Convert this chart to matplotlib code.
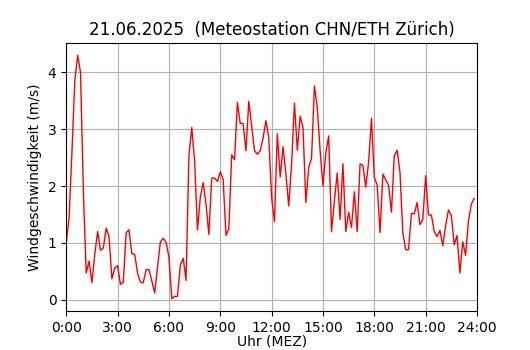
# Wind speed, 21.06.2025, Meteostation CHN/ETH Zuerich
# 10-minute values

import numpy as np
import matplotlib.pyplot as plt

# Wind speed (m/s), one value every 10 minutes starting 0:00
wind_00_06 = [1.00, 1.45, 2.60, 3.85, 4.30, 4.00, 1.90, 0.47, 0.68, 0.30,
              0.80, 1.20, 0.87, 0.91, 1.26, 1.11, 0.37, 0.56, 0.60, 0.27,
              0.31, 1.18, 1.23, 0.81, 0.80, 0.47, 0.31, 0.30, 0.53, 0.53,
              0.33, 0.12, 0.57, 1.02, 1.08, 1.01]
wind_06_12 = [0.75, 0.02, 0.06, 0.06, 0.61, 0.73, 0.34, 2.53, 3.03, 2.44,
              1.23, 1.80, 2.06, 1.68, 1.15, 2.14, 2.14, 2.08, 2.25, 2.12,
              1.13, 1.25, 2.55, 2.46, 3.47, 3.10, 3.10, 2.62, 3.49, 3.06,
              2.62, 2.56, 2.62, 2.84, 3.15, 2.85]
wind_12_18 = [1.80, 1.37, 2.92, 2.16, 2.69, 2.21, 1.65, 2.39, 3.46, 2.63,
              3.23, 3.03, 1.71, 2.33, 2.49, 3.76, 3.38, 2.62, 2.00, 2.59,
              2.88, 1.20, 1.74, 2.23, 1.41, 2.39, 1.20, 1.54, 1.27, 1.90,
              1.20, 2.39, 2.36, 1.98, 2.42, 3.19]
wind_18_24 = [2.15, 2.02, 1.18, 2.21, 2.11, 2.01, 1.54, 2.53, 2.63, 2.24,
              1.18, 0.88, 0.88, 1.52, 1.51, 1.71, 1.32, 1.41, 2.18, 1.49,
              1.49, 1.20, 1.11, 1.22, 0.95, 1.30, 1.58, 1.48, 0.97, 1.13,
              0.47, 1.02, 0.78, 1.39, 1.68, 1.78]

wind = wind_00_06 + wind_06_12 + wind_12_18 + wind_18_24
hours = np.arange(len(wind)) / 6.0

tick_hours = [0, 3, 6, 9, 12, 15, 18, 21, 24]
tick_labels = ["0:00", "3:00", "6:00", "9:00", "12:00", "15:00", "18:00", "21:00", "24:00"]

fig, ax = plt.subplots(figsize=(5.3, 3.5), dpi=100)
fig.subplots_adjust(left=0.125, right=0.9, bottom=0.112, top=0.877)

ax.plot(hours, wind, color="red", linewidth=1)
ax.set_xlim(0, 24)
ax.set_xticks(tick_hours)
ax.set_xticklabels(tick_labels)
ax.grid(True)

ax.set_title("21.06.2025  (Meteostation CHN/ETH Zürich)")
ax.set_xlabel("Uhr (MEZ)", labelpad=0)
ax.set_ylabel("Windgeschwindigkeit (m/s)")

plt.savefig("out.png", dpi=100)
